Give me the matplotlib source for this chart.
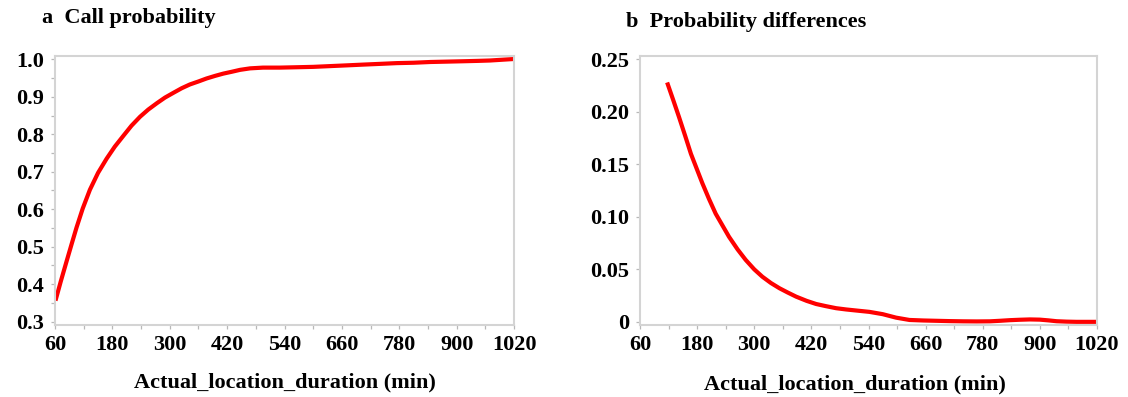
import matplotlib
matplotlib.use('Agg')
import matplotlib.pyplot as plt
from matplotlib.ticker import MultipleLocator

# Panel a: call probability vs actual location duration
dur_a = [61, 72, 84, 95, 105, 118, 133, 150, 168, 185, 203, 220, 238, 255, 273, 290, 308,
         325, 342, 360, 377, 395, 412, 430, 447, 468, 495, 530, 566, 600, 635, 670, 704,
         740, 775, 810, 845, 880, 914, 945, 970, 995, 1020]
prob_a = [0.356, 0.407, 0.460, 0.508, 0.551, 0.602, 0.652, 0.697, 0.735, 0.767, 0.796,
          0.823, 0.847, 0.866, 0.883, 0.898, 0.911, 0.923, 0.933, 0.941, 0.949, 0.956,
          0.962, 0.967, 0.972, 0.976, 0.978, 0.978, 0.979, 0.980, 0.982, 0.984, 0.986,
          0.988, 0.990, 0.991, 0.993, 0.994, 0.995, 0.996, 0.997, 0.999, 1.001]

# Panel b: probability differences
dur_b = [117, 130, 142, 155, 167, 179, 191, 205, 219, 233, 247, 265, 282, 300, 317, 335,
         353, 370, 388, 410, 430, 450, 472, 493, 514, 542, 570, 598, 626, 655, 683, 711,
         739, 767, 795, 816, 837, 858, 879, 900, 918, 935, 956, 977, 1000, 1020]
diff_b = [0.228, 0.211, 0.195, 0.177, 0.160, 0.146, 0.132, 0.117, 0.103, 0.092, 0.081,
          0.069, 0.059, 0.050, 0.043, 0.037, 0.032, 0.028, 0.024, 0.020, 0.017, 0.015,
          0.013, 0.0118, 0.0108, 0.0095, 0.0073, 0.0040, 0.0018, 0.0013, 0.0010, 0.0007,
          0.0005, 0.0004, 0.0005, 0.0010, 0.0016, 0.0020, 0.0023, 0.0021, 0.0014, 0.0006,
          0.0002, 0.0, 0.0, 0.0]

xticks = [60, 180, 300, 420, 540, 660, 780, 900, 1020]
yticks_a = [0.3, 0.4, 0.5, 0.6, 0.7, 0.8, 0.9, 1.0]
yticks_b = [0, 0.05, 0.10, 0.15, 0.20, 0.25]
ylabels_b = ['0', '0.05', '0.10', '0.15', '0.20', '0.25']

plt.rcParams['font.family'] = ['Liberation Serif', 'DejaVu Serif']
plt.rcParams['font.weight'] = 'bold'

W, H = 1128, 397
fig = plt.figure(figsize=(W / 100, H / 100), dpi=100)
ax1 = fig.add_axes([55 / W, 1 - 325 / H, 459 / W, 269 / H])
ax2 = fig.add_axes([640 / W, 1 - 325 / H, 457 / W, 269 / H])

frame_col = '#d4d4d4'
fs = 16
for ax in (ax1, ax2):
    for s in ax.spines.values():
        s.set_color(frame_col)
        s.set_linewidth(1.5)
    ax.set_xlim(60, 1020)
    ax.set_xticks(xticks)
    ax.set_xticklabels([str(t) for t in xticks])
    ax.xaxis.set_minor_locator(MultipleLocator(60))
    ax.tick_params(which='both', colors='#b8b8b8', labelcolor='black',
                   labelsize=fs, length=3, width=0.9)
    ax.tick_params(axis='x', pad=4)
    ax.tick_params(axis='y', pad=5)
    ax.set_xlabel('Actual_location_duration (min)', fontsize=fs, fontweight='bold')

ax1.xaxis.set_label_coords(0.5, -0.212)
ax2.xaxis.set_label_coords(0.47, -0.222)
for ax in (ax1, ax2):
    ax.xaxis.label.set_va('center')

ax1.plot(dur_a, prob_a, color='#ff0000', lw=3, solid_capstyle='butt')
ax1.set_ylim(0.291, 1.009)
ax1.set_yticks(yticks_a)
ax1.set_yticklabels([f'{v:.1f}' for v in yticks_a])
ax1.yaxis.set_minor_locator(MultipleLocator(0.05))

ax2.plot(dur_b, diff_b, color='#ff0000', lw=3, solid_capstyle='butt')
ax2.set_ylim(-0.003, 0.2532)
ax2.set_yticks(yticks_b)
ax2.set_yticklabels(ylabels_b)

fig.text(42 / W, 1 - 18 / H, 'a  Call probability', fontsize=fs, fontweight='bold',
         ha='left', va='center')
fig.text(626 / W, 1 - 22 / H, 'b  Probability differences', fontsize=fs, fontweight='bold',
         ha='left', va='center')

fig.savefig('out.png', dpi=100)
